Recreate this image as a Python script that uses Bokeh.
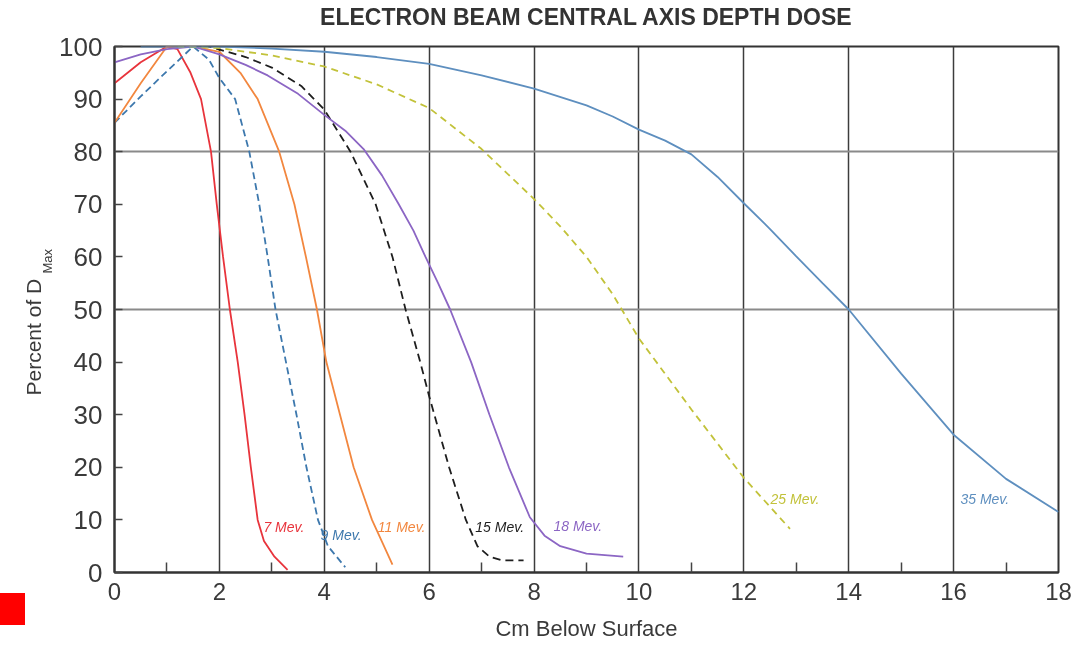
from bokeh.plotting import figure
from bokeh.models import Range1d, FixedTicker, Label, Title, LinearAxis, Div
from bokeh.layouts import column
from bokeh.embed import file_html
from bokeh.resources import INLINE

# ---------------- data ----------------
x_ticks = [0, 2, 4, 6, 8, 10, 12, 14, 16, 18]
x_minor = [1, 3, 5, 7, 9, 11, 13, 15, 17]
y_ticks = [0, 10, 20, 30, 40, 50, 60, 70, 80, 90, 100]
y_grid = [50, 80]

x_7 = [0, 0.5, 1.0, 1.2, 1.45, 1.65, 1.84, 1.95, 2.07, 2.2, 2.35, 2.48, 2.6, 2.73, 2.85, 3.05, 3.3]
y_7 = [93, 97, 100, 99.5, 95, 90, 80, 70, 60, 50, 40, 30, 20, 10, 6, 3, 0.5]

x_9 = [0, 0.5, 1.0, 1.5, 1.8, 2.0, 2.3, 2.57, 2.76, 2.92, 3.07, 3.27, 3.47, 3.66, 3.88, 4.07, 4.4]
y_9 = [85.5, 90.5, 95.3, 100, 97.5, 94, 90, 80, 70, 60, 50, 40, 30, 20, 10, 5, 1]

x_11 = [0, 0.5, 1.0, 1.5, 2.0, 2.4, 2.73, 3.14, 3.43, 3.65, 3.86, 4.04, 4.3, 4.56, 4.91, 5.3]
y_11 = [85.5, 93, 100, 100, 99, 95, 90, 80, 70, 60, 50, 40, 30, 20, 10, 1.5]

x_15 = [1.2, 1.8, 2.5, 3.0, 3.56, 4.0, 4.5, 4.98, 5.3, 5.55, 5.83, 6.0, 6.38, 6.7, 6.92, 7.15, 7.4, 7.8]
y_15 = [100, 100, 98, 96, 92.5, 88, 80, 70, 60, 50, 40, 33.5, 20, 10, 5, 3, 2.3, 2.3]

x_18 = [0, 0.5, 1.0, 1.5, 2.0, 2.5, 2.92, 3.5, 4.0, 4.4, 4.75, 5.1, 5.42, 5.7, 5.93, 6.17, 6.4,
        6.8, 7.15, 7.52, 7.92, 8.2, 8.5, 9.0, 9.7]
y_18 = [97, 98.5, 99.5, 100, 98.5, 96.5, 94.5, 91, 87, 84, 80.5, 75.5, 70, 65, 60, 55, 50,
        40, 30, 20, 10.5, 7, 5, 3.6, 3]

x_25 = [1.2, 2, 3, 4, 5, 6, 7, 8, 8.5, 9, 9.5, 10, 11, 12, 12.88]
y_25 = [100, 99.7, 98.3, 96.2, 92.8, 88.3, 80.5, 71, 65.8, 60, 52.9, 44.5, 31, 18, 8.3]

x_35 = [0.5, 2, 3, 4, 5, 6, 7, 8, 9, 9.5, 10, 10.5, 11, 11.5, 12, 12.5, 13, 13.5, 14, 15, 16, 17, 18]
y_35 = [100, 100, 99.6, 99, 98, 96.7, 94.5, 92, 88.8, 86.7, 84.2, 82.1, 79.5, 75.2, 70.2, 65.3, 60.1, 55,
        50, 37.8, 26.2, 17.8, 11.5]

series = [
    ("7 Mev.", x_7, y_7, "#e8343c", "solid", 2.84, 8.6),
    ("9 Mev.", x_9, y_9, "#3d78ad", "7 4", 3.93, 7.2),
    ("11 Mev.", x_11, y_11, "#f2873f", "solid", 5.02, 8.6),
    ("15 Mev.", x_15, y_15, "#1e1e1e", "8 5", 6.88, 8.6),
    ("18 Mev.", x_18, y_18, "#8c66c4", "solid", 8.37, 8.9),
    ("25 Mev.", x_25, y_25, "#c2c23a", "7 5", 12.51, 13.9),
    ("35 Mev.", x_35, y_35, "#5e8fbf", "solid", 16.13, 13.9),
]

TXT = "#3a3a3a"
FONT = "Liberation Sans"

# ---------------- figure ----------------
p = figure(width=1076, height=645, output_backend="svg", toolbar_location=None, title=None,
           x_range=Range1d(0, 18), y_range=Range1d(0, 100),
           min_border_left=114, min_border_right=18, min_border_top=46, min_border_bottom=73)
p.styles = {"position": "fixed", "left": "0px", "top": "0px"}
p.background_fill_color = "white"
p.border_fill_color = "white"
p.outline_line_color = "#333333"
p.outline_line_width = 2

# bottom axis
p.xaxis.ticker = FixedTicker(ticks=x_ticks, minor_ticks=x_minor)
p.xaxis.major_tick_in = 0
p.xaxis.major_tick_out = 0
p.xaxis.minor_tick_in = 10
p.xaxis.minor_tick_out = 0
p.xaxis.minor_tick_line_color = "#444444"
p.xaxis.minor_tick_line_width = 1.5
p.xaxis.major_label_standoff = 10
p.xaxis.major_label_text_font = FONT
p.xaxis.major_label_text_font_size = "24px"
p.xaxis.major_label_text_color = TXT
p.xaxis.axis_line_color = "#333333"
p.xaxis.axis_line_width = 2
p.xaxis.axis_label = "Cm Below Surface"
p.xaxis.axis_label_text_font = FONT
p.xaxis.axis_label_text_font_size = "22px"
p.xaxis.axis_label_text_font_style = "normal"
p.xaxis.axis_label_text_line_height = 1.0
p.xaxis.axis_label_text_color = TXT
p.xaxis.axis_label_standoff = 13

# left axis
p.yaxis.ticker = FixedTicker(ticks=y_ticks, minor_ticks=[])
p.yaxis.major_tick_in = 8
p.yaxis.major_tick_out = 0
p.yaxis.major_tick_line_color = "#444444"
p.yaxis.major_tick_line_width = 1.5
p.yaxis.minor_tick_in = 0
p.yaxis.minor_tick_out = 0
p.yaxis.major_label_standoff = 12
p.yaxis.major_label_text_font = FONT
p.yaxis.major_label_text_font_size = "26px"
p.yaxis.major_label_text_color = TXT
p.yaxis.axis_line_color = "#333333"
p.yaxis.axis_line_width = 2

# y-axis title: "Percent of D" with subscript "Max"
p.add_layout(Title(text="Max", align="left", offset=299, vertical_align="bottom", standoff=4,
                   text_font=FONT, text_font_size="13px", text_font_style="normal", text_color=TXT), "left")
p.add_layout(Title(text="Percent of D", align="left", offset=177, vertical_align="bottom", standoff=-18,
                   text_font=FONT, text_font_size="21px", text_font_style="normal", text_color=TXT), "left")

# chart title (top, as in the reference)
top_axis = LinearAxis(ticker=FixedTicker(ticks=[]), axis_label="ELECTRON BEAM CENTRAL AXIS DEPTH DOSE",
                      axis_line_color=None, major_tick_out=0, major_tick_in=0, minor_tick_out=0, minor_tick_in=0,
                      major_label_standoff=0, axis_label_standoff=17,
                      axis_label_text_font=FONT, axis_label_text_font_size="23px",
                      axis_label_text_line_height=1.0,
                      axis_label_text_font_style="bold", axis_label_text_color="#333333")
p.add_layout(top_axis, "above")

# grid
p.xgrid.ticker = FixedTicker(ticks=x_ticks)
p.xgrid.grid_line_color = "#3c3c3c"
p.xgrid.grid_line_width = 1.5
p.ygrid.ticker = FixedTicker(ticks=y_grid)
p.ygrid.grid_line_color = "#8a8a8a"
p.ygrid.grid_line_width = 2

for name, xs, ys, col, dash, lx, ly in series:
    p.line(xs, ys, line_color=col, line_width=1.8, line_dash=dash)
    p.add_layout(Label(x=lx, y=ly, text=name, text_color=col, text_font=FONT,
                       text_font_size="14px", text_font_style="italic",
                       text_align="left", text_baseline="middle"))

# red marker square at lower left of the reference image
marker = Div(text="", width=25, height=32, margin=0,
             styles={"position": "fixed", "left": "0px", "top": "593px", "background-color": "#ff0000"})

root = column(p, marker)
root.styles = {"position": "fixed", "left": "0px", "top": "0px"}

open("out.html", "w").write(file_html(root, INLINE))
